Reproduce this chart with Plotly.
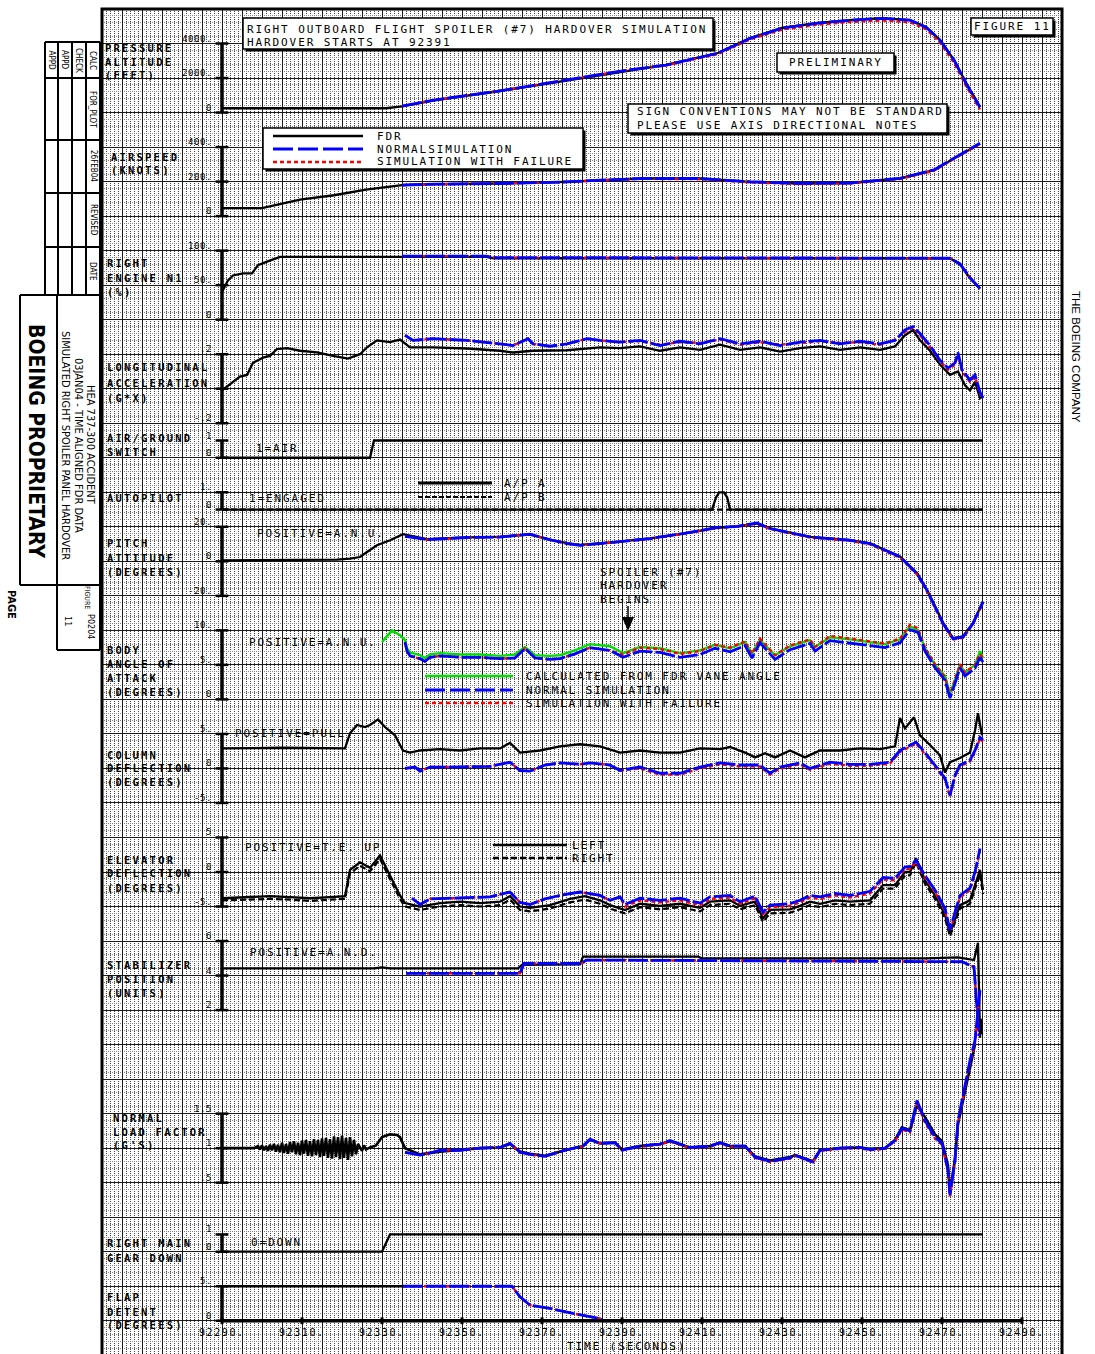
import plotly.graph_objects as go

# ---------------- time histories (seconds) ----------------
# Pressure altitude (ft)
ALT_T_FDR = [92290, 92331, 92335, 92343, 92359.5, 92376, 92384.5, 92401, 92414, 92422, 92430, 92439,
             92447, 92455, 92462, 92466, 92469.5, 92473, 92476, 92479.5]
ALT_FDR = [250, 250, 360, 710, 1250, 1870, 2160, 2760, 3450, 4310, 4900, 5190, 5360, 5470, 5360, 4960,
           4210, 3060, 1720, 320]
ALT_T_SIM = [92335, 92343, 92359.5, 92376, 92384.5, 92391, 92401, 92414, 92422, 92430, 92439, 92447,
             92455, 92462, 92466, 92469.5, 92473, 92476, 92479.5]
ALT_NORM = [370, 720, 1260, 1880, 2170, 2450, 2750, 3440, 4300, 4890, 5180, 5350, 5460, 5350, 4950, 4200,
            3040, 1700, 310]
ALT_FAIL = [370, 720, 1260, 1880, 2170, 2450, 2730, 3390, 4240, 4810, 5090, 5250, 5340, 5230, 4840, 4060,
            2880, 1540, 180]

# Airspeed (kt)
SPD_T_FDR = [92290, 92300, 92309.5, 92318, 92326, 92335, 92343, 92359.5, 92376, 92384.5, 92395, 92409.5,
             92422, 92434.5, 92447, 92459.5, 92468, 92473, 92479.5]
SPD_FDR = [46, 46, 96, 121, 154, 179, 185, 189, 198, 208, 218, 218, 198, 189, 192, 218, 266, 334, 420]
SPD_T_SIM = [92335, 92343, 92359.5, 92376, 92384.5, 92391, 92395, 92409.5, 92422, 92434.5, 92447, 92459.5,
             92468, 92473, 92479.5]
SPD_NORM = [180, 185, 189, 198, 208, 214, 218, 218, 199, 190, 192, 219, 268, 336, 422]
SPD_FAIL = [180, 185, 189, 198, 208, 214, 216, 214, 195, 186, 189, 215, 263, 332, 418]

# Right engine N1 (%)
N1_T_FDR = [92290, 92290.25, 92291.5, 92292.75, 92295.25, 92297.5, 92299, 92301.25, 92304.5, 92335, 92356,
            92358, 92420, 92472, 92474.5, 92477, 92479.5]
N1_FDR = [40, 43, 57, 64, 67, 67, 79, 84, 91, 91, 91, 89, 89, 89, 80, 60, 45]
N1_T_SIM = [92335, 92356, 92358, 92420, 92472, 92474.5, 92477, 92479.5]
N1_NORM = [92, 92, 90, 90, 89, 81, 61, 45]
N1_FAIL = [92, 92, 90, 90, 89, 81, 61, 45]

# Longitudinal acceleration (g)
LON_T_FDR = [92290, 92292.75, 92294.5, 92296.25, 92297.75, 92300.25, 92302, 92303.75, 92306.25, 92309.5,
             92313.75, 92317.75, 92321.5, 92324.5, 92326.25, 92328.75, 92332, 92334.5, 92337, 92342.75,
             92351.25, 92359.5, 92362.75, 92367.75, 92376.25, 92384.5, 92389.5, 92394.5, 92399.5, 92404.5,
             92409.5, 92414.5, 92419.5, 92424.5, 92429.5, 92434.5, 92439.5, 92444.5, 92449.5, 92454.5,
             92458.25, 92460.75, 92462.75, 92464.5, 92467, 92469.5, 92472, 92474, 92475.75, 92477,
             92478.25, 92479.5, 92480.25]
LON_FDR = [-0.01, 0.04, 0.07, 0.08, 0.15, 0.18, 0.19, 0.23, 0.235, 0.22,
           0.21, 0.19, 0.175, 0.20, 0.24, 0.28, 0.27, 0.285, 0.24, 0.24,
           0.233, 0.22, 0.21, 0.22, 0.223, 0.24, 0.235, 0.245, 0.22, 0.24,
           0.225, 0.255, 0.225, 0.24, 0.215, 0.235, 0.245, 0.225, 0.24, 0.225,
           0.245, 0.31, 0.34, 0.28, 0.22, 0.14, 0.08, 0.10, 0.02, -0.01,
           0.04, -0.055, -0.04]
LON_T_SIM = [92335.75, 92337.75, 92342.75, 92351.25, 92359.5, 92362.75, 92366.5, 92367.75, 92372, 92376.25,
             92381.25, 92384.5, 92389.5, 92394.5, 92399.5, 92404.5, 92409.5, 92414.5, 92419.5, 92424.5,
             92429.5, 92434.5, 92439.5, 92444.5, 92449.5, 92454.5, 92458.25, 92460.75, 92462.75, 92464.5,
             92467, 92469.5, 92471.5, 92473.25, 92474, 92475, 92477, 92478.25, 92479.5, 92480.25]
LON_NORM = [0.31, 0.28, 0.29, 0.28, 0.26, 0.25, 0.29, 0.26, 0.246, 0.26,
            0.29, 0.28, 0.27, 0.28, 0.25, 0.275, 0.26, 0.29, 0.26, 0.275,
            0.25, 0.27, 0.28, 0.26, 0.275, 0.26, 0.28, 0.34, 0.36, 0.32,
            0.25, 0.165, 0.12, 0.15, 0.21, 0.11, 0.05, 0.08, -0.02, -0.055]
LON_FAIL = [0.31, 0.28, 0.29, 0.28, 0.26, 0.25, 0.29, 0.26, 0.246, 0.26,
            0.29, 0.28, 0.27, 0.275, 0.255, 0.27, 0.265, 0.285, 0.255, 0.27,
            0.255, 0.265, 0.275, 0.265, 0.27, 0.255, 0.285, 0.33, 0.355, 0.31,
            0.24, 0.16, 0.11, 0.14, 0.20, 0.10, 0.04, 0.07, -0.03, -0.06]

# Air/ground switch (1 = air)
AG_T = [92290, 92327, 92328, 92480.25]
AG = [0, 0, 1, 1]

# Autopilot (1 = engaged)
AP_T = [92290, 92412.5, 92413.5, 92414.3, 92415.5, 92416.3, 92417, 92480.25]
AP_A = [0, 0, 0.7, 1, 1, 0.7, 0, 0]
AP_B_T = [92290, 92480.25]
AP_B = [0, 0]

# Pitch attitude (deg)
PIT_T_FDR = [92290, 92318.75, 92322, 92324.5, 92326.25, 92328.75, 92332, 92334.5, 92335.25, 92341.25,
             92351.25, 92359.5, 92367, 92372, 92376.25, 92379.5, 92384.5, 92388.75, 92397, 92405.25,
             92413.75, 92418.75, 92423.75, 92427, 92437, 92447, 92452, 92459.5, 92463.75, 92466.25,
             92470.25, 92472.75, 92475.25, 92477.75, 92480.25]
PIT_FDR = [0.6, 1.0, 1.5, 2.5, 5.4, 9.3, 12.2, 15.1, 15.7, 12.8,
           13.9, 14.2, 15.5, 12.6, 10.5, 9.5, 10.4, 11.3, 13.3, 16.0,
           19.4, 20.2, 22.0, 19.1, 14.2, 12.3, 10.4, 2.8, -6.8, -16.5,
           -35.5, -44.5, -43.5, -35.8, -23.3]
PIT_T_SIM = [92335.75, 92341.25, 92351.25, 92359.5, 92367, 92372, 92376.25, 92379.5, 92384.5, 92388.75,
             92397, 92405.25, 92413.75, 92418.75, 92423.75, 92427, 92437, 92447, 92452, 92459.5,
             92463.75, 92466.25, 92470.25, 92472.75, 92475.25, 92477.75, 92480.25]
PIT_NORM = [14.5, 12.6, 13.8, 14.1, 15.7, 12.5, 10.3, 9.3, 10.3, 11.2,
            13.2, 16.1, 19.6, 20.3, 22.2, 19.0, 14.1, 12.2, 10.3, 2.6,
            -7.1, -16.8, -36, -44.8, -43.8, -36, -23.5]
PIT_FAIL = [14.5, 12.6, 13.8, 14.1, 15.7, 12.5, 10.3, 9.3, 10.3, 11.1,
            13.0, 15.9, 19.3, 20.0, 21.9, 18.7, 13.8, 11.9, 9.9, 2.1,
            -7.6, -17.4, -36.6, -45.4, -44.3, -36.4, -23.9]

# Body angle of attack (deg)
AOA_T_FDR = [92330, 92332.5, 92334.5, 92335.75, 92336.25, 92337, 92339.5, 92340.75, 92342, 92344.5,
             92349.5, 92354.5, 92359.5, 92363.25, 92365.75, 92368.25, 92372, 92374.5, 92378.25, 92382,
             92387, 92390.25, 92394.5, 92399.5, 92404.5, 92409.5, 92413.25, 92417, 92420.75, 92422.5,
             92424.5, 92428.25, 92432, 92437, 92438.25, 92442, 92447, 92452, 92455.75, 92459.5,
             92462, 92464, 92465.75, 92468.25, 92470.75, 92472, 92473.25, 92474.5, 92475.75, 92477,
             92478.25, 92479.5, 92480.25]
AOA_FDR = [8.3, 10.0, 9.3, 8.6, 7.4, 6.8, 6.4, 6.0, 6.5, 6.7,
           6.5, 6.5, 6.3, 6.5, 7.6, 6.4, 6.3, 6.4, 7.1, 8.0,
           7.7, 6.7, 7.6, 7.4, 6.7, 7.1, 7.9, 7.4, 8.3, 6.7,
           8.6, 6.4, 7.7, 8.6, 7.6, 9.0, 8.7, 8.3, 8.0, 8.7,
           10.6, 10.0, 7.4, 5.0, 3.4, 0.8, 2.8, 5.0, 3.9, 4.5,
           5.0, 7.0, 6.0]
AOA_T_SIM = [92335.75, 92336.25, 92337, 92339.5, 92340.75, 92342, 92344.5, 92349.5, 92354.5, 92359.5,
             92363.25, 92365.75, 92368.25, 92372, 92374.5, 92378.25, 92382, 92387, 92390.25, 92394.5,
             92399.5, 92404.5, 92409.5, 92413.25, 92417, 92420.75, 92422.5, 92424.5, 92428.25, 92432,
             92437, 92438.25, 92442, 92447, 92452, 92455.75, 92459.5, 92462, 92464, 92465.75,
             92468.25, 92470.75, 92472, 92473.25, 92474.5, 92475.75, 92477, 92478.25, 92479.5, 92480.25]
AOA_NORM = [8.3, 7.0, 6.3, 5.9, 5.5, 6.1, 6.3, 6.1, 6.1, 5.9,
            6.0, 7.4, 6.0, 5.8, 5.9, 6.6, 7.5, 7.1, 6.1, 7.0,
            6.8, 6.1, 6.5, 7.4, 6.9, 7.8, 6.0, 8.2, 5.8, 7.2,
            8.1, 7.0, 8.5, 8.2, 7.8, 7.5, 8.2, 10.1, 9.7, 7.0,
            4.6, 2.8, 0.2, 2.3, 4.6, 3.4, 4.0, 4.5, 6.1, 5.4]
AOA_FAIL = [8.3, 7.0, 6.3, 5.9, 5.5, 6.1, 6.3, 6.1, 6.1, 5.9,
            6.0, 7.4, 6.0, 5.8, 5.9, 6.6, 7.5, 7.1, 6.5, 7.5,
            7.3, 6.6, 7.0, 7.9, 7.5, 8.4, 6.6, 8.8, 6.4, 7.8,
            8.7, 7.6, 9.2, 8.8, 8.4, 8.1, 8.8, 10.8, 10.3, 7.5,
            5.1, 3.2, 0.6, 2.8, 5.1, 3.9, 4.5, 5.0, 6.6, 5.9]

# Column deflection (deg)
COL_T_FDR = [92290, 92305, 92320.75, 92322, 92323.75, 92325.75, 92327, 92329, 92330.75, 92333.25,
             92334.5, 92335.25, 92337, 92339.5, 92344.5, 92349.5, 92354.5, 92359.5, 92362, 92364.5,
             92369.5, 92374.5, 92379.5, 92384.5, 92389.5, 92394.5, 92399.5, 92404.5, 92409.5, 92414.5,
             92417, 92420.75, 92423.25, 92425.75, 92428.25, 92432, 92435.75, 92439.5, 92444.5, 92449.5,
             92454.5, 92458.25, 92459.5, 92460.75, 92463, 92464.5, 92467, 92469.5, 92470.75, 92472,
             92474.5, 92477, 92478.25, 92479, 92480]
COL_FDR = [2.9, 3.0, 2.9, 5.1, 6.3, 6.0, 6.3, 7.1, 6.0, 4.8,
           3.4, 2.6, 2.3, 2.6, 2.8, 2.6, 2.9, 2.9, 3.7, 2.3,
           2.6, 3.2, 3.5, 3.2, 2.3, 2.6, 2.3, 2.3, 2.9, 2.8,
           3.1, 2.3, 1.6, 2.2, 1.6, 2.6, 1.6, 2.6, 2.6, 2.9,
           2.8, 3.2, 7.3, 5.8, 7.4, 4.8, 3.4, 1.9, -0.6, 0.9,
           1.5, 2.3, 5.5, 8.0, 4.8]
COL_T_SIM = [92335.75, 92338.25, 92339.5, 92342, 92347, 92352, 92357, 92362, 92364.5, 92367,
             92370.75, 92374.5, 92379.5, 92382, 92387, 92389.5, 92394.5, 92399.5, 92404.5, 92409.5,
             92414.5, 92419.5, 92424.5, 92427, 92429.5, 92434.5, 92437, 92442, 92447, 92452,
             92457, 92459.5, 92462, 92463.5, 92465.75, 92468.25, 92470.75, 92472, 92473.25, 92474.5,
             92477, 92478.25, 92479.5, 92480.25]
COL_NORM = [0.0, 0.2, -0.4, 0.2, 0.2, 0.2, 0.3, 0.9, -0.3, -0.4,
            0.5, 0.8, 0.6, 0.8, 0.5, -0.3, 0.2, -0.7, -0.7, 0.2,
            0.8, 0.5, 0.5, -0.7, 0.2, 0.8, 0.0, 0.9, 0.6, 0.6,
            0.9, 2.6, 3.4, 3.8, 2.3, 0.5, -1.4, -3.9, -1.0, 0.5,
            1.2, 2.6, 4.5, 4.1]
COL_FAIL = [0.0, 0.2, -0.4, 0.2, 0.2, 0.2, 0.3, 0.9, -0.3, -0.4,
            0.5, 0.8, 0.6, 0.8, 0.5, -0.3, 0.0, -0.9, -0.9, 0.0,
            0.6, 0.3, 0.3, -0.9, 0.0, 0.6, -0.2, 0.7, 0.4, 0.4,
            0.7, 2.4, 3.2, 3.6, 2.1, 0.3, -1.6, -4.1, -1.2, 0.3,
            1.0, 2.4, 4.3, 3.9]

# Elevator deflection (deg)
ELV_T_FDR = [92290, 92297, 92302, 92307, 92312, 92317, 92320.75, 92322, 92324.5, 92327,
             92329.5, 92332, 92334.5, 92335.75, 92339.5, 92344.5, 92349.5, 92354.5, 92359.5, 92362,
             92364.5, 92367, 92372, 92377, 92380.75, 92384.5, 92387, 92390.75, 92394.5, 92399.5,
             92404.5, 92409.5, 92412, 92417, 92419.5, 92423.25, 92425.25, 92427, 92432, 92434.5,
             92437, 92439.5, 92443.25, 92447, 92452, 92455.25, 92458.25, 92460.75, 92462, 92463.5,
             92465.75, 92468.25, 92470.75, 92472, 92473.25, 92474.5, 92477, 92478.25, 92479.5, 92480.25]
ELV_LEFT = [-3.8, -3.65, -3.5, -3.65, -3.8, -3.65, -3.5, 0.3, 1.4, 0.6,
            2.4, -0.5, -3.4, -4.5, -5.0, -4.5, -4.3, -4.5, -4.3, -3.5,
            -5.0, -5.2, -4.8, -3.9, -3.5, -4.1, -4.8, -5.5, -4.6, -4.9,
            -4.6, -5.2, -4.3, -4.1, -4.9, -4.3, -6.7, -5.5, -5.4, -4.9,
            -4.3, -4.6, -4.1, -4.3, -4.1, -1.9, -1.9, 0.0, 0.0, 2.0,
            -1.2, -3.4, -6.2, -8.9, -6.7, -4.8, -4.1, -1.9, 0.3, -2.6]
ELV_RIGHT = [-4.1, -4.0, -3.9, -4.0, -4.2, -4.0, -3.9, -0.2, 0.9, 0.1,
             1.9, -1.0, -3.9, -5.0, -5.5, -5.0, -4.8, -5.0, -4.8, -4.0,
             -5.5, -5.7, -5.3, -4.4, -4.0, -4.6, -5.3, -6.0, -5.1, -5.4,
             -5.1, -5.7, -4.8, -4.6, -5.4, -4.8, -7.2, -6.0, -5.9, -5.4,
             -4.8, -5.1, -4.6, -4.8, -4.6, -2.4, -2.4, -0.5, -0.5, 1.4,
             -1.7, -3.9, -6.7, -9.3, -7.2, -5.3, -4.6, -2.4, -0.3, -3.2]
ELV_T_SIM = [92337.5, 92339.5, 92342, 92347, 92352, 92357, 92362, 92364.5, 92367, 92370.75,
             92374.5, 92379.5, 92384.5, 92387, 92389.5, 92390.75, 92394.5, 92399.5, 92404.5, 92409.5,
             92412, 92417, 92419.5, 92423.25, 92425.25, 92427, 92432, 92434.5, 92437, 92439.5,
             92443.25, 92447, 92452, 92455.25, 92458.25, 92460.75, 92462, 92463.5, 92465.75, 92468.25,
             92470.75, 92472, 92473.25, 92474.5, 92477, 92478.25, 92479.5]
ELV_NORM = [-3.8, -4.7, -3.9, -3.8, -3.6, -3.6, -2.9, -4.4, -4.7, -3.9,
            -3.4, -2.9, -3.4, -4.1, -3.6, -4.7, -3.8, -4.1, -3.8, -4.5,
            -3.6, -3.4, -4.3, -3.5, -5.8, -4.8, -4.6, -4.1, -3.4, -3.6,
            -3.1, -3.4, -2.8, -0.8, -0.9, 0.7, 0.8, 1.7, -0.5, -2.6,
            -5.3, -8.4, -5.8, -3.4, -2.3, 0.0, 3.4]
ELV_FAIL = [-3.8, -4.7, -3.9, -3.8, -3.6, -3.6, -2.9, -4.4, -4.7, -3.9,
            -3.4, -2.9, -3.4, -4.1, -3.6, -5.0, -4.1, -4.4, -4.1, -4.8,
            -3.9, -3.7, -4.6, -3.8, -6.1, -5.1, -4.9, -4.4, -3.7, -3.9,
            -3.4, -3.7, -3.1, -1.1, -1.2, 0.4, 0.5, 1.4, -0.8, -2.9,
            -5.6, -8.6, -6.1, -3.7, -2.6, -0.3, 3.1]

# Stabilizer position (units)
STB_T_FDR = [92290, 92328, 92330, 92332, 92364, 92365, 92379.5, 92380.25, 92409, 92410, 92466, 92474,
             92478, 92479, 92479.5, 92479.75, 92480]
STB_FDR = [4.42, 4.42, 4.47, 4.42, 4.42, 4.62, 4.65, 5.1, 5.1, 5.0, 5.0, 5.05, 4.9, 5.9, 0.4, 1.5, 0.6]
STB_T_SIM = [92336, 92364.5, 92365.5, 92380, 92381, 92475, 92478, 92479.25]
STB_NORM = [4.13, 4.13, 4.7, 4.7, 4.9, 4.8, 4.5, 0.5]
STB_FAIL = [4.13, 4.13, 4.7, 4.7, 4.9, 4.8, 4.5, 0.5]

# Normal load factor (g)
NZ_T_FDR = [92290, 92298,
            92299, 92299.5, 92300, 92300.5, 92301, 92301.5, 92302, 92302.5, 92303, 92303.5,
            92304, 92304.5, 92305, 92305.5, 92306, 92306.5, 92307, 92307.5, 92308, 92308.5,
            92309, 92309.5, 92310, 92310.5, 92311, 92311.5, 92312, 92312.5, 92313, 92313.5,
            92314, 92314.5, 92315, 92315.5, 92316, 92316.5, 92317, 92317.5, 92318, 92318.5,
            92319, 92319.5, 92320, 92320.5, 92321, 92321.5, 92322, 92322.5, 92323, 92323.5,
            92324,
            92325, 92325.5, 92326, 92327, 92328.5, 92330, 92332, 92333.75, 92334.5, 92335.75,
            92339.5, 92344.5, 92349.5, 92354.5, 92359.5, 92362, 92364.5, 92367, 92370.75, 92375.75,
            92380.25, 92382, 92384.5, 92388.25, 92390, 92394.5, 92399.5, 92402, 92407, 92412,
            92414.5, 92417, 92420.75, 92423.25, 92427, 92432, 92433.25, 92437.75, 92439.5, 92444.5,
            92449.5, 92452, 92455.75, 92458.25, 92460, 92462, 92463.75, 92465.75, 92468.25, 92470,
            92471.5, 92472, 92473.25, 92474, 92475, 92476, 92477, 92478.25]
NZ_FDR = [1.0, 1.0,
          1.03, 0.98, 1.04, 0.97, 1.03, 0.96, 1.05, 0.97, 1.06, 0.95,
          1.05, 0.94, 1.08, 0.93, 1.06, 0.92, 1.09, 0.94, 1.10, 0.91,
          1.08, 0.90, 1.11, 0.92, 1.12, 0.89, 1.10, 0.88, 1.13, 0.90,
          1.12, 0.87, 1.14, 0.89, 1.15, 0.86, 1.13, 0.85, 1.17, 0.87,
          1.16, 0.84, 1.18, 0.86, 1.15, 0.83, 1.16, 0.88, 1.12, 0.91,
          1.06,
          0.96, 1.04, 0.98, 1.01, 1.04, 1.16, 1.2, 1.19, 1.16, 1.0,
          0.91, 0.95, 0.98, 1.0, 1.01, 1.06, 0.95, 0.92, 0.89, 0.97,
          1.03, 1.12, 1.07, 1.08, 0.98, 1.03, 1.06, 1.1, 1.01, 1.03,
          1.08, 1.03, 1.03, 0.88, 0.82, 0.87, 0.9, 0.81, 0.97, 1.0,
          1.01, 0.99, 1.0, 1.12, 1.3, 1.26, 1.62, 1.45, 1.2, 1.1,
          0.75, 0.35, 0.85, 1.35, 1.62, 1.9, 2.2, 2.5]
NZ_T_SIM = [92335.75, 92339.5, 92342, 92344.5, 92349.5, 92354.5, 92359.5, 92362, 92364.5, 92367,
            92370.75, 92375.75, 92380.25, 92382, 92384.5, 92388.25, 92390, 92394.5, 92399.5, 92402,
            92407, 92412, 92414.5, 92417, 92420.75, 92423.25, 92427, 92432, 92433.25, 92437.75,
            92439.5, 92444.5, 92449.5, 92452, 92455.75, 92458.25, 92460, 92462, 92463.75, 92465.75,
            92468.25, 92470, 92471.5, 92472, 92473.25, 92474, 92475, 92476, 92477, 92478.25,
            92479, 92479.5]
NZ_NORM = [0.94, 0.9, 0.93, 0.97, 0.97, 1.0, 1.01, 1.07, 0.94, 0.91,
           0.88, 0.97, 1.03, 1.13, 1.07, 1.08, 0.97, 1.03, 1.06, 1.11,
           1.01, 1.03, 1.08, 1.03, 1.03, 0.87, 0.81, 0.86, 0.9, 0.8,
           0.97, 1.0, 1.01, 0.98, 1.0, 1.11, 1.29, 1.25, 1.69, 1.4,
           1.16, 1.07, 0.68, 0.32, 0.83, 1.4, 1.69, 1.98, 2.27, 2.56,
           3.07, 3.29]
NZ_FAIL = [0.94, 0.9, 0.93, 0.97, 0.97, 1.0, 1.01, 1.07, 0.94, 0.91,
           0.88, 0.97, 1.03, 1.13, 1.07, 1.08, 0.97, 1.02, 1.05, 1.10,
           1.00, 1.02, 1.07, 1.02, 1.02, 0.86, 0.80, 0.85, 0.89, 0.79,
           0.96, 0.99, 1.00, 0.97, 0.99, 1.10, 1.27, 1.23, 1.66, 1.37,
           1.14, 1.05, 0.66, 0.30, 0.80, 1.36, 1.65, 1.95, 2.24, 2.52,
           3.02, 3.25]

# Right main gear (0 = down)
GEAR_T = [92290, 92330, 92332, 92480.25]
GEAR = [0, 0, 1, 1]

# Flap detent (deg)
FLAP_T_FDR = [92290, 92335.25]
FLAP_FDR = [5, 5]
FLAP_T_SIM = [92335.25, 92362.5, 92364.5, 92367, 92372, 92377.75, 92384.5, 92385.25, 92480.25]
FLAP_NORM = [5, 5, 3.46, 2.26, 1.78, 1.06, 0.33, 0, 0]
FLAP_FAIL = [5, 5, 3.46, 2.26, 1.78, 1.06, 0.33, 0, 0]

# axis tick labels
TIME_TICKS = [92290, 92310, 92330, 92350, 92370, 92390, 92410, 92430, 92450, 92470, 92490]
TIME_LABELS = ["92290.", "92310.", "92330.", "92350.", "92370.", "92390.", "92410.", "92430.",
               "92450.", "92470.", "92490."]

# ---------------- page geometry ----------------
W, H = 1095, 1354
ML, MR, MT, MB = 102, 33, 9, 0
PW, PH = W - ML - MR, H - MT - MB
T0, T1 = 92260, 92500
ROW_PX = 34.52
NROWS = PH / ROW_PX
T_AXIS = 92290          # time where the channel scale bars stand

MONO = "DejaVu Sans Mono"
NARROW = "Liberation Sans Narrow, DejaVu Sans Condensed, Liberation Sans"
SANS = "Liberation Sans, Arial"


def xp(px):
    return (px - ML) / PW


def yp(py):
    return 1 - (py - MT) / PH


def spaced(text, ls):
    return f'<span style="letter-spacing:{ls}px">{text}</span>'


# strip charts: value at top grid row, value at bottom grid row
PANELS = {
    "alt":  dict(top=4000, r0=1, bot=0, r1=3, ticks=[0, 2000, 4000], lab=["0", "2000.", "4000."]),
    "spd":  dict(top=400, r0=4, bot=0, r1=6, ticks=[0, 200, 400], lab=["0", "200.", "400."]),
    "n1":   dict(top=100, r0=7, bot=0, r1=9, ticks=[0, 50, 100], lab=["0", "50.", "100."]),
    "lon":  dict(top=.2, r0=10, bot=-.2, r1=12, ticks=[-.2, .2], lab=["-.2", ".2"], caps=[-.2, 0, .2]),
    "ag":   dict(top=1, r0=12.5, bot=0, r1=13, ticks=[0, 1], lab=["0", "1"]),
    "ap":   dict(top=1, r0=14, bot=0, r1=14.5, ticks=[0, 1], lab=["0", "1."]),
    "pit":  dict(top=20, r0=15, bot=-20, r1=17, ticks=[-20, 0, 20], lab=["-20.", "0", "20."]),
    "aoa":  dict(top=10, r0=18, bot=0, r1=20, ticks=[0, 5, 10], lab=["0", "5.", "10."]),
    "col":  dict(top=5, r0=21, bot=-5, r1=23, ticks=[-5, 0, 5], lab=["-5.", "0", "5."]),
    "elv":  dict(top=5, r0=24, bot=-5, r1=26, ticks=[-5, 0, 5], lab=["-5.", "0", "5"]),
    "stb":  dict(top=6, r0=27, bot=2, r1=29, ticks=[2, 4, 6], lab=["2", "4", "6"]),
    "nz":   dict(top=1.5, r0=32, bot=.5, r1=34, ticks=[.5, 1, 1.5], lab=[".5", "1", "1.5"]),
    "gear": dict(top=1, r0=35.5, bot=0, r1=36, ticks=[0, 1], lab=["0", "1"]),
    "flap": dict(top=5, r0=37, bot=0, r1=38, ticks=[0, 5], lab=["0", "5."]),
}

fig = go.Figure()
shapes, annotations = [], []
layout = {}
AX = {}

for i, (key, p) in enumerate(PANELS.items()):
    n = i + 2
    AX[key] = f"y{n}"
    slope = (p["bot"] - p["top"]) / (p["r1"] - p["r0"])
    lo = p["top"] + (NROWS - p["r0"]) * slope
    hi = p["top"] + (0 - p["r0"]) * slope
    layout[f"yaxis{n}"] = dict(overlaying="y", anchor="x", range=[lo, hi], visible=False,
                               showgrid=False, zeroline=False)
    # I-beam scale bar with cross ticks
    shapes.append(dict(type="line", xref="x", yref=f"y{n}", x0=T_AXIS, x1=T_AXIS,
                       y0=p["bot"], y1=p["top"], line=dict(color="black", width=3.5)))
    for c in p.get("caps", p["ticks"]):
        shapes.append(dict(type="line", xref="x", yref=f"y{n}", x0=T_AXIS - 1.6, x1=T_AXIS + 1.6,
                           y0=c, y1=c, line=dict(color="black", width=2.5)))
    for v, s in zip(p["ticks"], p["lab"]):
        annotations.append(dict(text=spaced(s, 0.6), x=T_AXIS - 2.2, y=v, xref="x", yref=f"y{n}",
                                xanchor="right", yanchor="middle", yshift=5, showarrow=False,
                                borderpad=0, font=dict(family=MONO, size=9, color="black")))

FDR = dict(color="black", width=2.3)
FDR_R = dict(color="black", width=2.2, dash="6px,3px")
NORM = dict(color="#0000ff", width=2.8, dash="20px,3px")
FAIL = dict(color="#ff0000", width=2.4, dash="4px,3px")
GREEN = dict(color="#00e000", width=2.4)


def line(t, v, key, style, name):
    fig.add_trace(go.Scatter(x=t, y=v, yaxis=AX[key], mode="lines", line=style,
                             name=name, showlegend=False, hoverinfo="skip"))


line(ALT_T_FDR, ALT_FDR, "alt", FDR, "FDR")
line(ALT_T_SIM, ALT_FAIL, "alt", FAIL, "Simulation with failure")
line(ALT_T_SIM, ALT_NORM, "alt", NORM, "Normal simulation")
line(SPD_T_FDR, SPD_FDR, "spd", FDR, "FDR")
line(SPD_T_SIM, SPD_FAIL, "spd", FAIL, "Simulation with failure")
line(SPD_T_SIM, SPD_NORM, "spd", NORM, "Normal simulation")
line(N1_T_FDR, N1_FDR, "n1", FDR, "FDR")
line(N1_T_SIM, N1_FAIL, "n1", FAIL, "Simulation with failure")
line(N1_T_SIM, N1_NORM, "n1", NORM, "Normal simulation")
line(LON_T_FDR, LON_FDR, "lon", FDR, "FDR")
line(LON_T_SIM, LON_FAIL, "lon", FAIL, "Simulation with failure")
line(LON_T_SIM, LON_NORM, "lon", NORM, "Normal simulation")
line(AG_T, AG, "ag", FDR, "Air/ground")
line(AP_B_T, AP_B, "ap", FDR_R, "A/P B")
line(AP_T, AP_A, "ap", FDR, "A/P A")
line(PIT_T_FDR, PIT_FDR, "pit", FDR, "FDR")
line(PIT_T_SIM, PIT_FAIL, "pit", FAIL, "Simulation with failure")
line(PIT_T_SIM, PIT_NORM, "pit", NORM, "Normal simulation")
line(AOA_T_FDR, AOA_FDR, "aoa", GREEN, "Calculated from FDR vane angle")
line(AOA_T_SIM, AOA_FAIL, "aoa", FAIL, "Simulation with failure")
line(AOA_T_SIM, AOA_NORM, "aoa", NORM, "Normal simulation")
line(COL_T_FDR, COL_FDR, "col", FDR, "FDR")
line(COL_T_SIM, COL_FAIL, "col", FAIL, "Simulation with failure")
line(COL_T_SIM, COL_NORM, "col", NORM, "Normal simulation")
line(ELV_T_FDR, ELV_RIGHT, "elv", FDR_R, "Right")
line(ELV_T_FDR, ELV_LEFT, "elv", FDR, "Left")
line(ELV_T_SIM, ELV_FAIL, "elv", FAIL, "Simulation with failure")
line(ELV_T_SIM, ELV_NORM, "elv", NORM, "Normal simulation")
line(STB_T_FDR, STB_FDR, "stb", FDR, "FDR")
line(STB_T_SIM, STB_FAIL, "stb", FAIL, "Simulation with failure")
line(STB_T_SIM, STB_NORM, "stb", NORM, "Normal simulation")
line(NZ_T_FDR, NZ_FDR, "nz", dict(color="black", width=2.6), "FDR")
line(NZ_T_SIM, NZ_FAIL, "nz", FAIL, "Simulation with failure")
line(NZ_T_SIM, NZ_NORM, "nz", NORM, "Normal simulation")
line(GEAR_T, GEAR, "gear", FDR, "Gear")
line(FLAP_T_FDR, FLAP_FDR, "flap", FDR, "FDR")
line(FLAP_T_SIM, FLAP_FAIL, "flap", FAIL, "Simulation with failure")
line(FLAP_T_SIM, FLAP_NORM, "flap", NORM, "Normal simulation")

# time axis base line with tick marks and labels
shapes.append(dict(type="line", xref="x", yref="y", x0=TIME_TICKS[0], x1=TIME_TICKS[-1], y0=38, y1=38,
                   line=dict(color="black", width=3.5)))
for t, s in zip(TIME_TICKS, TIME_LABELS):
    shapes.append(dict(type="line", xref="x", yref="y", x0=t, x1=t, y0=37.9, y1=38.1,
                       line=dict(color="black", width=3)))
    annotations.append(dict(text=spaced(s, 1.6), x=t, y=38, xref="x", yref="y", yshift=-12,
                            xanchor="center", yanchor="middle", showarrow=False, borderpad=0,
                            font=dict(family=MONO, size=10, color="black")))


def seg(x0, y0, x1, y1, width=2.0, color="black", dash=None):
    ln = dict(color=color, width=width)
    if dash:
        ln["dash"] = dash
    shapes.append(dict(type="line", xref="paper", yref="paper", x0=xp(x0), x1=xp(x1),
                       y0=yp(y0), y1=yp(y1), line=ln))


def box(x0, y0, x1, y1, lw=1.5, shadow=2.5):
    shapes.append(dict(type="rect", xref="paper", yref="paper", x0=xp(x0 + shadow), x1=xp(x1 + shadow),
                       y0=yp(y0 + shadow), y1=yp(y1 + shadow), fillcolor="black", line=dict(width=0)))
    shapes.append(dict(type="rect", xref="paper", yref="paper", x0=xp(x0), x1=xp(x1),
                       y0=yp(y0), y1=yp(y1), fillcolor="white", line=dict(color="black", width=lw)))


def text(s, x, y, size=11, ls=1.9, anchor="left", family=MONO, angle=0, bold=False):
    body = spaced(s, ls) if ls else s
    if bold:
        body = f"<b>{body}</b>"
    annotations.append(dict(text=body, x=xp(x), y=yp(y), xref="paper", yref="paper", showarrow=False,
                            xanchor=anchor, yanchor="middle", textangle=angle, borderpad=0,
                            font=dict(family=family, size=size, color="black")))


# header boxes
box(243, 18, 713, 49)
text("RIGHT OUTBOARD FLIGHT SPOILER (#7) HARDOVER SIMULATION", 246, 29)
text("HARDOVER STARTS AT 92391", 246, 42)
box(971, 18, 1053, 35)
text("FIGURE 11", 973, 26.5)
box(777, 53, 894, 72)
text("PRELIMINARY", 835.5, 62.5, anchor="center")
box(628, 104, 947, 133)
text("SIGN CONVENTIONS MAY NOT BE STANDARD", 636, 112)
text("PLEASE USE AXIS DIRECTIONAL NOTES", 636, 126)

# main legend
box(263, 128, 583, 169)
seg(273, 136, 363, 136, width=2.4)
seg(273, 149, 363, 149, width=2.8, color="#0000ff", dash="20px,5px")
seg(273, 162, 363, 162, width=2.4, color="#ff0000", dash="4px,3px")
text("FDR", 376, 136)
text("NORMALSIMULATION", 376, 149)
text("SIMULATION WITH FAILURE", 376, 162)

# channel titles
CHANNEL_TITLES = [
    (["PRESSURE", "ALTITUDE", "(FEET)"], 104, [48, 62, 75]),
    (["AIRSPEED", "(KNOTS)"], 110, [157, 170]),
    (["RIGHT", "ENGINE N1", "(%)"], 106, [263, 278, 292]),
    (["LONGITUDINAL", "ACCELERATION", "(G*X)"], 106, [367, 383, 398]),
    (["AIR/GROUND", "SWITCH"], 106, [438, 452]),
    (["AUTOPILOT"], 106, [498]),
    (["PITCH", "ATTITUDE", "(DEGREES)"], 106, [543, 558, 572]),
    (["BODY", "ANGLE OF", "ATTACK", "(DEGREES)"], 106, [650, 664, 678, 692]),
    (["COLUMN", "DEFLECTION", "(DEGREES)"], 106, [755, 768, 782]),
    (["ELEVATOR", "DEFLECTION", "(DEGREES)"], 106, [860, 873, 888]),
    (["STABILIZER", "POSITION", "(UNITS)"], 106, [965, 979, 993]),
    (["NORMAL", "LOAD FACTOR", "(G'S)"], 112, [1118, 1132, 1145]),
    (["RIGHT MAIN", "GEAR DOWN"], 106, [1243, 1258]),
    (["FLAP", "DETENT", "(DEGREES)"], 106, [1297, 1312, 1325]),
]
for lines_, x0, ys in CHANNEL_TITLES:
    for s, y in zip(lines_, ys):
        text(s, x0, y, size=10.5, ls=2.2, bold=True)

# in-panel notes
text("1=AIR", 255, 449)
text("1=ENGAGED", 248, 498)
seg(418, 483, 492, 483, width=3)
seg(418, 497, 492, 497, width=2.2, dash="5px,2px")
text("A/P A", 503, 483)
text("A/P B", 503, 497)
text("POSITIVE=A.N.U.", 256, 533)
text("POSITIVE=A.N.U.", 248, 642)
seg(425, 676, 513, 676, width=2.4, color="#00e000")
seg(425, 690, 513, 690, width=2.8, color="#0000ff", dash="20px,5px")
seg(425, 703, 513, 703, width=2.4, color="#ff0000", dash="4px,3px")
text("CALCULATED FROM FDR VANE ANGLE", 525, 676)
text("NORMAL SIMULATION", 525, 690)
text("SIMULATION WITH FAILURE", 525, 703)
text("SPOILER (#7)", 599, 572)
text("HARDOVER", 599, 585)
text("BEGINS", 599, 599)
seg(628, 606, 628, 622, width=1.5)
shapes.append(dict(type="path", xref="paper", yref="paper", fillcolor="black", line=dict(width=0),
                   path=f"M {xp(622)},{yp(617)} L {xp(634)},{yp(617)} L {xp(628)},{yp(631)} Z"))
text("POSITIVE=PULL", 234, 733)
text("POSITIVE=T.E. UP", 244, 847)
seg(493, 845, 567, 845, width=2.6)
seg(493, 858, 567, 858, width=2.6, dash="6px,3px")
text("LEFT", 571, 845)
text("RIGHT", 571, 858)
text("POSITIVE=A.N.D.", 249, 952)
text("0=DOWN", 250, 1242)
text("TIME (SECONDS)", 566, 1346)

# title block on the left margin
for yy in (42, 78, 140, 193, 247, 295):
    seg(45, yy, 100, yy, width=2)
for xx in (45, 58, 72, 86):
    seg(xx, 42, xx, 295, width=2)
seg(100, 42, 100, 650, width=2)
text("CALC", 93, 60, size=8, ls=0, family=NARROW, angle=90, anchor="center")
text("CHECK", 79, 60, size=8, ls=0, family=NARROW, angle=90, anchor="center")
text("APPD", 65, 60, size=8, ls=0, family=NARROW, angle=90, anchor="center")
text("APPD", 51.5, 60, size=8, ls=0, family=NARROW, angle=90, anchor="center")
text("FOR_PLOT", 93, 109, size=8, ls=0, family=NARROW, angle=90, anchor="center")
text("26FEB04", 93, 166, size=8, ls=0, family=NARROW, angle=90, anchor="center")
text("REVISED", 93, 220, size=8, ls=0, family=NARROW, angle=90, anchor="center")
text("DATE", 93, 271, size=8, ls=0, family=NARROW, angle=90, anchor="center")
seg(20, 295, 45, 295, width=2)
seg(20, 295, 20, 585, width=2)
seg(57, 295, 57, 650, width=2)
seg(20, 585, 100, 585, width=2)
seg(57, 650, 100, 650, width=2)
text("HEA 737-300 ACCIDENT", 91, 445, size=11, ls=0, family=NARROW, angle=90, anchor="center")
text("03JAN04 - TIME ALIGNED FDR DATA", 79, 445, size=11, ls=0, family=NARROW, angle=90, anchor="center")
text("SIMULATED RIGHT SPOILER PANEL HARDOVER", 66, 445, size=11, ls=0, family=NARROW, angle=90,
     anchor="center")
text("BOEING PROPRIETARY", 36, 441, size=21, ls=0, family=NARROW, angle=90, anchor="center", bold=True)
text("FIGURE", 87, 597, size=7, ls=0, family=NARROW, angle=90, anchor="center")
text("11", 68, 621, size=9, ls=0, family=NARROW, angle=90, anchor="center")
text("P0204", 91, 626, size=9, ls=0, family=NARROW, angle=90, anchor="center")
text("PAGE", 12, 604, size=11, ls=0, family=NARROW, angle=90, anchor="center", bold=True)
text("THE BOEING COMPANY", 1076, 357, size=11.5, ls=0, family=SANS, angle=90, anchor="center")

# graph paper frame
shapes.append(dict(type="rect", xref="paper", yref="paper", x0=0, x1=1, y0=-0.02, y1=1,
                   line=dict(color="black", width=3)))

layout.update(
    width=W, height=H,
    margin=dict(l=ML, r=MR, t=MT, b=MB, pad=0),
    paper_bgcolor="white", plot_bgcolor="white", showlegend=False,
    xaxis=dict(range=[T0, T1], tick0=T0, dtick=5, showgrid=True, gridcolor="#1a1a1a", gridwidth=1.3,
               showticklabels=False, ticks="", zeroline=False, showline=False,
               minor=dict(tick0=T0, dtick=1, showgrid=True, gridcolor="#444444", gridwidth=1,
                          griddash="1px,1px")),
    yaxis=dict(range=[NROWS, 0], tick0=0, dtick=1, showgrid=True, gridcolor="#1a1a1a", gridwidth=1.3,
               showticklabels=False, ticks="", zeroline=False, showline=False,
               minor=dict(tick0=0, dtick=0.2, showgrid=True, gridcolor="#888888", gridwidth=1,
                          griddash="1px,1px")),
    shapes=shapes, annotations=annotations,
)
fig.update_layout(**layout)
fig.write_html("out.html")
